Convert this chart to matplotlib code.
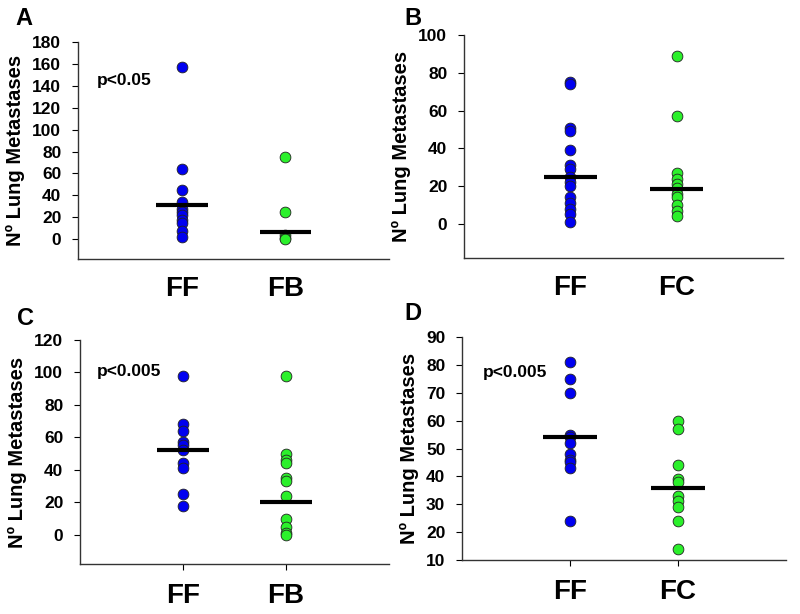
import matplotlib
matplotlib.use("Agg")
import matplotlib.pyplot as plt
import numpy as np

plt.rcParams['font.family'] = ['Liberation Sans', 'DejaVu Sans']

# ---- data ----
a_groups = ["FF", "FB"]
a_ff = [157, 64, 45, 34, 28, 25, 22, 18, 15, 8, 2]
a_fb = [75, 25, 4, 1, 0]
a_lines = [31, 7]
a_ticks = [0, 20, 40, 60, 80, 100, 120, 140, 160, 180]

b_groups = ["FF", "FC"]
b_ff = [75, 74, 51, 49, 39, 31, 29, 25, 22, 20, 14, 11, 8, 5, 1]
b_fc = [89, 57, 27, 24, 21, 19, 16, 14, 10, 7, 4]
b_lines = [25, 18.5]
b_ticks = [0, 20, 40, 60, 80, 100]

c_groups = ["FF", "FB"]
c_ff = [98, 68, 64, 57, 55, 52, 44, 41, 25, 18]
c_fb = [98, 50, 46, 44, 35, 33, 24, 10, 5, 1, 0]
c_lines = [52, 20]
c_ticks = [0, 20, 40, 60, 80, 100, 120]

d_groups = ["FF", "FC"]
d_ff = [81, 75, 70, 55, 54, 52, 48, 46, 45, 43, 24]
d_fc = [60, 57, 44, 39, 38, 33, 31, 29, 24, 14]
d_lines = [54.2, 36]
d_ticks = [10, 20, 30, 40, 50, 60, 70, 80, 90]

panels = [
    dict(letter="A", groups=a_groups, s1=a_ff, s2=a_fb, lines=a_lines, ticks=a_ticks,
         ylim=(-18, 180), pos=[0.0975, 0.578, 0.389, 0.354], p="p<0.05", pxy=(0.06, 0.82),
         lxy=(0.019, 0.959), xticks=False),
    dict(letter="B", groups=b_groups, s1=b_ff, s2=b_fc, lines=b_lines, ticks=b_ticks,
         ylim=(-18, 100), pos=[0.58, 0.580, 0.399, 0.363], p=None, pxy=None,
         lxy=(0.506, 0.959), xticks=False),
    dict(letter="C", groups=c_groups, s1=c_ff, s2=c_fb, lines=c_lines, ticks=c_ticks,
         ylim=(-18, 120), pos=[0.1, 0.0814, 0.386, 0.365], p="p<0.005", pxy=(0.055, 0.857),
         lxy=(0.021, 0.471), xticks=True),
    dict(letter="D", groups=d_groups, s1=d_ff, s2=d_fc, lines=d_lines, ticks=d_ticks,
         ylim=(10, 90), pos=[0.5775, 0.088, 0.405, 0.363], p="p<0.005", pxy=(0.065, 0.843),
         lxy=(0.506, 0.479), xticks=True),
]

blue = "#0000f0"
green = "#2bf02b"

fig = plt.figure(figsize=(8, 6.14), dpi=100)

for pn in panels:
    ax = fig.add_axes(pn["pos"])
    for i, (vals, col) in enumerate([(pn["s1"], blue), (pn["s2"], green)]):
        x = np.full(len(vals), i + 1.0)
        ax.scatter(x, vals, s=60, color=col, edgecolor="#222222", linewidth=0.6, zorder=3)
        ax.plot([i + 1 - 0.25, i + 1 + 0.25], [pn["lines"][i]] * 2, color="black",
                lw=3, zorder=4, solid_capstyle="butt")
    ax.set_xlim(0, 3)
    ax.set_ylim(*pn["ylim"])
    ax.set_yticks(pn["ticks"])
    ax.set_xticks([1, 2])
    ax.set_xticklabels(pn["groups"], fontsize=20, fontweight="bold")
    ax.tick_params(axis="x", length=4 if pn["xticks"] else 0, pad=10 if pn["xticks"] else 12,
                   width=0.8)
    ax.tick_params(axis="y", length=4, width=0.8, pad=8, labelsize=12.5)
    for lab in ax.get_yticklabels():
        lab.set_fontweight("bold")
    for sp in ["top", "right"]:
        ax.spines[sp].set_visible(False)
    for sp in ["left", "bottom"]:
        ax.spines[sp].set_linewidth(1.0)
        ax.spines[sp].set_color("#333333")
    ax.set_ylabel("Nº Lung Metastases", fontsize=14.5, fontweight="bold", labelpad=5)
    if pn["p"]:
        ax.text(pn["pxy"][0], pn["pxy"][1], pn["p"], transform=ax.transAxes,
                fontsize=12.5, fontweight="bold", va="center", ha="left")
    fig.text(pn["lxy"][0], pn["lxy"][1], pn["letter"], fontsize=17, fontweight="bold",
             ha="left", va="baseline")

fig.savefig("out.png", dpi=100)
